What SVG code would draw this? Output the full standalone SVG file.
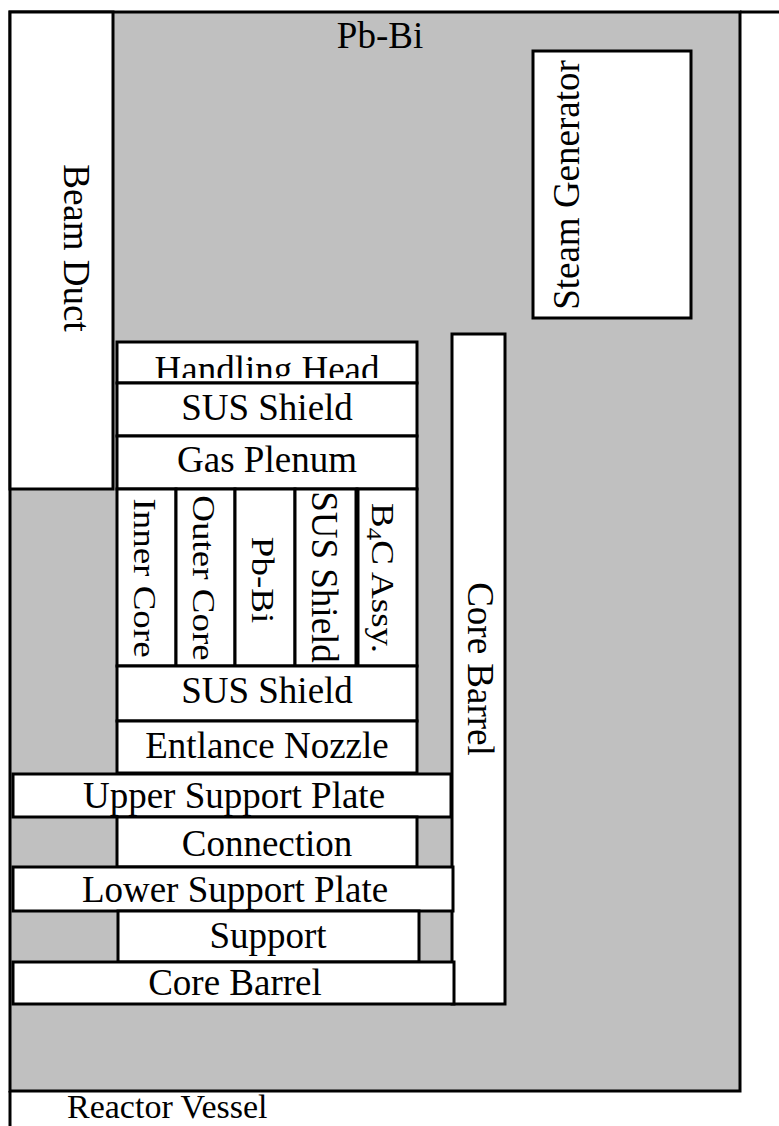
<svg xmlns="http://www.w3.org/2000/svg" width="779" height="1126" viewBox="0 0 779 1126">
<style>
.box{fill:#fff;stroke:#000;stroke-width:3}
.vessel{fill:#c0c0c0;stroke:#000;stroke-width:3}
.ln{stroke:#000;stroke-width:3;fill:none}
text{font-family:"Liberation Serif","Times New Roman",serif;font-size:37px;fill:#000}
.c{text-anchor:middle}
</style>
<defs>
<clipPath id="hhclip"><rect x="117" y="342" width="300" height="36"/></clipPath>
</defs>
<rect width="779" height="1126" fill="#fff"/>
<g id="reactor-vessel">
<rect class="vessel" x="10" y="12" width="730" height="1079"/>
<line class="ln" x1="740" y1="12" x2="779" y2="12"/>
<line class="ln" x1="10" y1="1091" x2="10" y2="1126"/>
<text x="67" y="1118" style="font-size:34px">Reactor Vessel</text>
</g>
<g id="pb-bi-pool">
<text class="c" x="380" y="48">Pb-Bi</text>
</g>
<g id="beam-duct">
<rect class="box" x="10" y="12" width="103" height="477"/>
<text class="c" transform="translate(64,248) rotate(90)">Beam Duct</text>
</g>
<g id="steam-generator">
<rect class="box" x="533" y="51" width="158" height="267"/>
<text class="c" transform="translate(579,185) rotate(-90)">Steam Generator</text>
</g>
<g id="core-barrel-vertical">
<rect class="box" x="452" y="334" width="53" height="670"/>
<text class="c" transform="translate(468,669) rotate(90)">Core Barrel</text>
</g>
<g id="handling-head">
<rect class="box" x="117" y="342" width="300" height="41"/>
<text class="c" x="267" y="382" clip-path="url(#hhclip)">Handling Head</text>
</g>
<g id="sus-shield-upper">
<rect class="box" x="117" y="383" width="300" height="53"/>
<text class="c" x="267" y="420">SUS Shield</text>
</g>
<g id="gas-plenum">
<rect class="box" x="117" y="436" width="300" height="53"/>
<text class="c" x="267" y="472">Gas Plenum</text>
</g>
<g id="inner-core">
<rect class="box" x="117" y="489" width="59" height="177"/>
<text class="c" transform="translate(134,578) rotate(90) scale(1,0.88)">Inner Core</text>
</g>
<g id="outer-core">
<rect class="box" x="176" y="489" width="59" height="177"/>
<text class="c" transform="translate(193,578) rotate(90) scale(1,0.85)">Outer Core</text>
</g>
<g id="pb-bi-column">
<rect class="box" x="235" y="489" width="60" height="177"/>
<text class="c" transform="translate(252,580) rotate(90) scale(1,0.85)">Pb-Bi</text>
</g>
<g id="sus-shield-column">
<rect class="box" x="295" y="489" width="62" height="177"/>
<text class="c" transform="translate(312,577) rotate(90)">SUS Shield</text>
</g>
<g id="b4c-assy">
<rect class="box" x="357" y="489" width="60" height="177"/>
<line class="ln" x1="357" y1="489" x2="357" y2="666" style="stroke-width:5"/>
<text class="c" transform="translate(372,578) rotate(90) scale(1,0.88)">B<tspan font-size="25" dy="6">4</tspan><tspan dy="-6">C Assy.</tspan></text>
</g>
<g id="sus-shield-lower">
<rect class="box" x="117" y="666" width="300" height="55"/>
<text class="c" x="267" y="703">SUS Shield</text>
</g>
<g id="entlance-nozzle">
<rect class="box" x="117" y="721" width="300" height="52"/>
<text class="c" x="267" y="758">Entlance Nozzle</text>
</g>
<g id="upper-support-plate">
<rect class="box" x="13" y="774" width="438" height="43"/>
<text class="c" x="234" y="808">Upper Support Plate</text>
</g>
<g id="connection">
<rect class="box" x="117" y="817" width="300" height="50"/>
<text class="c" x="267" y="856">Connection</text>
</g>
<g id="lower-support-plate">
<rect class="box" x="13" y="867" width="440" height="44"/>
<text class="c" x="235" y="902">Lower Support Plate</text>
</g>
<g id="support">
<rect class="box" x="118" y="911" width="301" height="51"/>
<text class="c" x="268" y="948">Support</text>
</g>
<g id="core-barrel-horizontal">
<rect class="box" x="13" y="962" width="441" height="42"/>
<text class="c" x="235" y="995">Core Barrel</text>
</g>
</svg>
